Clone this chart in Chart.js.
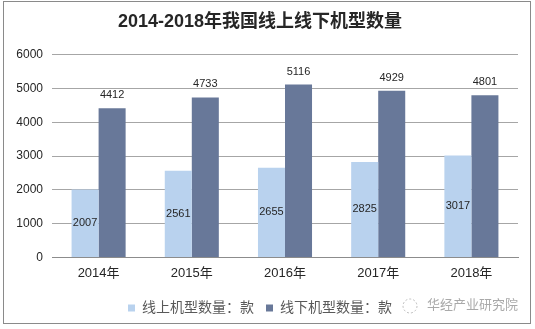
<!DOCTYPE html>
<html>
<head>
<meta charset="utf-8">
<script src="https://cdn.jsdelivr.net/npm/chart.js@4/dist/chart.umd.min.js"></script>
<style>
  html, body { margin: 0; padding: 0; background: #fff; }
  #wrap { position: relative; width: 535px; height: 329px; }
</style>
</head>
<body>
<div id="wrap"><canvas id="c" width="535" height="329"></canvas></div>
<script>
// ── Data ──────────────────────────────────────────────────────────────────────
const YEARS   = ['2014年', '2015年', '2016年', '2017年', '2018年'];
const ONLINE  = [2007, 2561, 2655, 2825, 3017];
const OFFLINE = [4412, 4733, 5116, 4929, 4801];
const SERIES_NAMES = ['线上机型数量：款', '线下机型数量：款'];
const Y_MAX = 6000, Y_STEP = 1000;

const FONT = '"Liberation Sans", "Noto Sans CJK SC", sans-serif';
const COLORS = ['#b9d2ee', '#687899'];

// ── Plugins ───────────────────────────────────────────────────────────────────
// value labels: first series centred in the bar, second above the bar
const valueLabels = {
  id: 'valueLabels',
  afterDatasetsDraw(chart) {
    const { ctx } = chart;
    ctx.save();
    ctx.font = '11px ' + FONT;
    ctx.fillStyle = '#262626';
    ctx.textAlign = 'center';
    ctx.textBaseline = 'middle';
    chart.data.datasets.forEach((ds, i) => {
      chart.getDatasetMeta(i).data.forEach((bar, j) => {
        const y = i === 0 ? (bar.y + bar.base) / 2 : bar.y - 13;
        ctx.fillText(String(ds.data[j]), bar.x, y);
      });
    });
    ctx.restore();
  },
};

// outer frame + source watermark
const frame = {
  id: 'frame',
  afterDraw(chart) {
    const { ctx } = chart;
    ctx.save();
    ctx.strokeStyle = '#8a8a8a';
    ctx.lineWidth = 1;
    ctx.strokeRect(3.5, 1.5, 527, 322);

    ctx.strokeStyle = 'rgba(150,150,150,0.6)';
    ctx.setLineDash([2, 2]);
    ctx.beginPath();
    ctx.arc(410, 306, 7, 0, Math.PI * 2);
    ctx.stroke();
    ctx.setLineDash([]);
    ctx.font = '13px ' + FONT;
    ctx.fillStyle = 'rgba(140,140,140,0.75)';
    ctx.textBaseline = 'middle';
    ctx.fillText('华经产业研究院', 427, 305);
    ctx.restore();
  },
};

// ── Chart ─────────────────────────────────────────────────────────────────────
new Chart(document.getElementById('c'), {
  type: 'bar',
  data: {
    labels: YEARS,
    datasets: [
      { label: SERIES_NAMES[0], data: ONLINE,  backgroundColor: COLORS[0] },
      { label: SERIES_NAMES[1], data: OFFLINE, backgroundColor: COLORS[1] },
    ],
  },
  options: {
    responsive: false,
    animation: false,
    datasets: { bar: { categoryPercentage: 0.58, barPercentage: 1.0 } },
    layout: { padding: { left: 2, right: 17, top: 0, bottom: 4 } },
    plugins: {
      tooltip: { enabled: false },
      title: {
        display: true,
        text: '2014-2018年我国线上线下机型数量',
        color: '#262626',
        font: { family: FONT, size: 18, weight: 'bold' },
        padding: { top: 11, bottom: 22 },
      },
      legend: {
        position: 'bottom',
        labels: {
          boxWidth: 7, boxHeight: 7,
          color: '#595959',
          font: { family: FONT, size: 14 },
          padding: 12,
        },
      },
    },
    scales: {
      x: {
        grid: { display: false, drawTicks: false },
        border: { color: '#8c8c8c' },
        ticks: { color: '#262626', font: { family: FONT, size: 13 }, padding: 8 },
      },
      y: {
        min: 0, max: Y_MAX,
        afterFit(scale) { scale.width = 50; },
        grid: { color: '#a6a6a6', drawTicks: false },
        border: { display: false },
        ticks: {
          stepSize: Y_STEP, color: '#262626', font: { family: FONT, size: 12 }, padding: 9,
          callback: v => String(v),
        },
      },
    },
  },
  plugins: [valueLabels, frame],
});
</script>
</body>
</html>
